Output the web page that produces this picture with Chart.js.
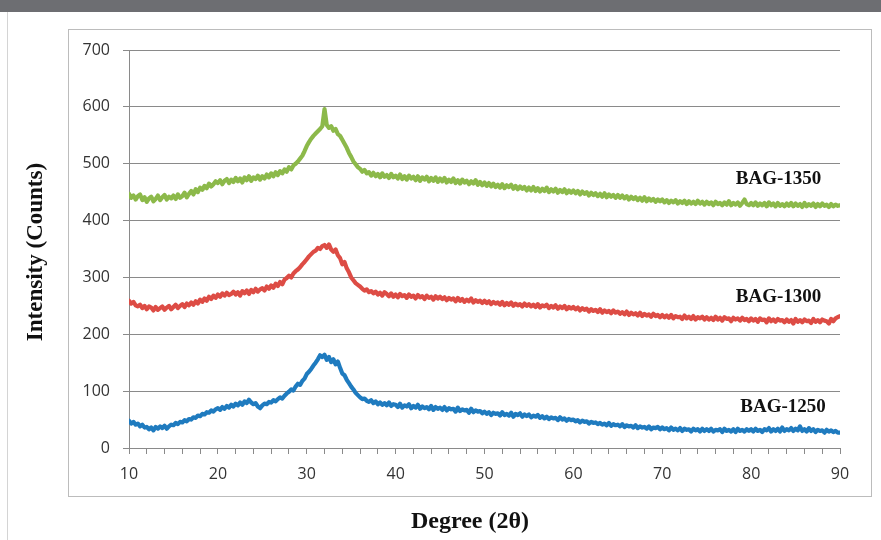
<!DOCTYPE html>
<html>
<head>
<meta charset="utf-8">
<script src="https://cdn.jsdelivr.net/npm/chart.js@4/dist/chart.umd.min.js"></script>
<style>
  html, body { margin: 0; padding: 0; background: #fff; }
  #page { position: relative; width: 881px; height: 540px; overflow: hidden; }
  #band { position: absolute; left: 0; top: 0; width: 881px; height: 12px; background: #6d6e72; }
  #edge { position: absolute; left: 7px; top: 12px; width: 1px; height: 528px; background: #d4d4d4; }
  #frame { position: absolute; left: 68px; top: 29px; width: 802px; height: 466px; border: 1px solid #bcbcbc; }
  #chart { position: absolute; left: 0; top: 0; }
</style>
</head>
<body>
<div id="page">
  <div id="band"></div>
  <div id="edge"></div>
  <div id="frame"></div>
  <canvas id="chart" width="881" height="540"></canvas>
</div>
<script>
// XRD patterns, 2θ from 10 to 90 in 0.25 degree steps (one row = 5 degrees)
const degStart = 10;
const degStep = 0.25;

const bag1350 = [
  447, 440, 444, 437, 443, 446, 436, 441, 433, 439, 442, 434, 438, 444, 436, 441, 445, 437, 442, 439,
  444, 438, 446, 440, 443, 449, 441, 447, 452, 446, 455, 450, 458, 454, 461, 457, 465, 460, 464, 469,
  466, 471, 464, 470, 473, 466, 472, 468, 475, 469, 474, 467, 476, 471, 478, 470, 476, 473, 479, 472,
  478, 474, 481, 476, 483, 478, 485, 480, 487, 483, 490, 486, 494, 490, 497, 500, 504, 509, 514, 522,
  531, 538, 544, 549, 553, 557, 561, 566, 596, 568, 563, 566, 558, 561, 552, 549, 542, 535, 528, 519,
  512, 504, 499, 494, 491, 486, 489, 483, 485, 479, 484, 478, 482, 476, 483, 477, 480, 475, 482, 476,
  479, 474, 481, 473, 478, 472, 479, 474, 477, 471, 478, 470, 476, 472, 477, 469, 475, 470, 476, 468,
  474, 469, 475, 467, 472, 468, 474, 466, 471, 465, 472, 467, 470, 464, 469, 465, 471, 463, 468, 462,
  467, 461, 466, 460, 465, 459, 463, 458, 464, 457, 462, 459, 463, 456, 461, 455, 460, 456, 459, 453,
  458, 453, 459, 452, 457, 451, 456, 452, 458, 450, 455, 451, 456, 449, 454, 450, 455, 448, 453, 449,
  453, 448, 452, 446, 451, 447, 450, 444, 449, 445, 448, 443, 447, 442, 448, 441, 446, 442, 445, 440,
  445, 440, 444, 439, 443, 437, 442, 438, 441, 436, 440, 435, 441, 434, 439, 435, 438, 433, 437, 434,
  437, 432, 436, 431, 435, 432, 436, 430, 434, 431, 435, 429, 434, 430, 433, 429, 435, 430, 433, 428,
  433, 429, 432, 427, 433, 429, 431, 427, 432, 428, 434, 427, 431, 428, 432, 426, 431, 437, 429, 427,
  431, 427, 432, 426, 430, 427, 431, 425, 432, 427, 430, 425, 431, 426, 429, 425, 430, 426, 431, 425,
  430, 426, 429, 424, 431, 425, 429, 426, 430, 424, 429, 425, 430, 426, 428, 424, 429, 425, 428, 426,
  427
];

const bag1300 = [
  259, 254, 257, 251, 249, 252, 246, 250, 244, 249, 247, 242, 248, 243, 246, 249, 243, 247, 250, 244,
  248, 252, 246, 250, 253, 248, 254, 251, 256, 252, 258, 254, 261, 257, 263, 259, 266, 262, 268, 264,
  270, 266, 272, 268, 273, 269, 271, 275, 270, 274, 268, 276, 272, 277, 271, 278, 274, 280, 275, 279,
  281, 277, 284, 280, 286, 282, 289, 285, 292, 288, 296, 299, 303, 300, 307, 311, 314, 318, 323, 327,
  332, 337, 341, 345, 347, 352, 350, 355, 357, 352, 358, 349, 345, 349, 339, 334, 323, 327, 316, 309,
  300, 295, 290, 287, 284, 280, 277, 279, 274, 276, 272, 275, 270, 273, 268, 274, 271, 267, 272, 266,
  270, 265, 271, 267, 269, 264, 270, 266, 268, 263, 269, 265, 267, 262, 268, 264, 266, 261, 267, 263,
  266, 262, 265, 260, 264, 261, 263, 258, 264, 259, 262, 257, 261, 258, 263, 256, 260, 257, 259, 255,
  259, 255, 258, 253, 257, 254, 256, 252, 257, 251, 255, 252, 256, 250, 254, 251, 253, 249, 254, 250,
  253, 249, 252, 248, 253, 247, 251, 249, 252, 246, 250, 247, 251, 245, 249, 246, 250, 244, 248, 245,
  248, 244, 247, 242, 246, 243, 245, 240, 244, 241, 243, 239, 244, 238, 242, 239, 241, 237, 242, 238,
  240, 236, 239, 235, 240, 234, 238, 235, 237, 233, 238, 232, 236, 233, 235, 231, 236, 232, 234, 230,
  234, 230, 233, 229, 234, 228, 232, 230, 231, 227, 233, 228, 231, 227, 232, 226, 230, 228, 231, 226,
  230, 226, 229, 225, 231, 226, 229, 224, 230, 227, 228, 223, 229, 226, 228, 224, 229, 225, 227, 223,
  228, 224, 227, 222, 228, 225, 226, 221, 228, 223, 226, 222, 227, 224, 225, 221, 226, 222, 225, 219,
  227, 222, 225, 221, 226, 223, 224, 220, 227, 222, 225, 221, 226, 224, 223, 219, 227, 223, 228, 230,
  232
];

const bag1250 = [
  48, 43, 46, 41, 43, 38, 41, 36, 37, 33, 36, 31, 37, 34, 38, 35, 39, 34, 38, 41,
  40, 44, 42, 46, 45, 49, 47, 51, 50, 54, 53, 57, 56, 60, 59, 63, 62, 66, 64, 68,
  70, 67, 72, 69, 74, 71, 76, 73, 78, 75, 80, 76, 82, 79, 85, 80, 77, 79, 73, 70,
  75, 78, 77, 81, 80, 84, 82, 86, 89, 87, 92, 96, 99, 103, 101, 108, 113, 111, 118, 122,
  130, 134, 139, 145, 150, 156, 163, 160, 164, 155, 160, 151, 156, 147, 152, 141, 131, 128, 120, 114,
  108, 103, 97, 93, 89, 86, 87, 83, 81, 84, 79, 82, 77, 80, 76, 79, 75, 80, 74, 77,
  76, 72, 78, 71, 75, 73, 77, 70, 74, 71, 76, 69, 73, 70, 72, 68, 74, 67, 72, 69,
  71, 67, 72, 66, 70, 68, 69, 64, 71, 65, 68, 66, 67, 62, 69, 63, 66, 64, 65, 61,
  64, 60, 63, 58, 62, 60, 61, 57, 63, 58, 60, 57, 62, 55, 60, 58, 61, 55, 59, 56,
  59, 54, 57, 55, 58, 53, 56, 52, 55, 51, 54, 52, 53, 49, 54, 50, 52, 48, 51, 49,
  50, 47, 49, 45, 48, 46, 47, 43, 46, 44, 45, 42, 44, 41, 43, 40, 44, 39, 42, 40,
  41, 38, 42, 37, 40, 38, 39, 36, 40, 35, 38, 36, 37, 34, 38, 33, 36, 35, 37, 33,
  36, 33, 35, 31, 36, 32, 34, 31, 35, 30, 34, 32, 33, 29, 34, 31, 33, 29, 34, 30,
  33, 30, 34, 29, 32, 31, 33, 28, 34, 30, 32, 29, 33, 28, 34, 30, 32, 29, 33, 30,
  33, 29, 34, 30, 32, 28, 33, 31, 35, 29, 33, 30, 34, 29, 36, 30, 33, 31, 35, 30,
  34, 31, 38, 30, 33, 29, 35, 30, 33, 28, 32, 30, 31, 27, 32, 29, 31, 28, 30, 27,
  27
];

// series labels placed next to the tail of each curve (right edge at 2θ, intensity)
const seriesNames = ['BAG-1350', 'BAG-1300', 'BAG-1250'];
const seriesColors = ['#8cb94a', '#dd4c45', '#1f7bbf'];
const nameAtDeg = [87.9, 87.9, 88.4];
const nameAtCount = [473, 266, 72];

const yTicks = [0, 100, 200, 300, 400, 500, 600, 700];

function toPoints(values) {
  return values.map((v, i) => ({ x: degStart + i * degStep, y: v }));
}

const seriesValues = [bag1350, bag1300, bag1250];

const gridGrey = '#8a8a8a';
const tickFont = { family: '"Open Sans", sans-serif', size: 16 };

// axis titles and the in-plot series names
const textPlugin = {
  id: 'texts',
  afterDraw(chart) {
    const ctx = chart.ctx;
    const xs = chart.scales.x, ys = chart.scales.y;
    ctx.save();
    ctx.fillStyle = '#111';
    ctx.font = 'bold 19px "Liberation Serif", "Times New Roman", serif';
    ctx.textAlign = 'right';
    ctx.textBaseline = 'middle';
    seriesNames.forEach((n, i) => {
      ctx.fillText(n, xs.getPixelForValue(nameAtDeg[i]), ys.getPixelForValue(nameAtCount[i]));
    });
    ctx.font = 'bold 24px "Liberation Serif", "Times New Roman", serif';
    ctx.textAlign = 'center';
    ctx.fillText('Degree (2θ)', 470, 522);
    ctx.font = 'bold 23px "Liberation Serif", "Times New Roman", serif';
    ctx.translate(36, 252);
    ctx.rotate(-Math.PI / 2);
    ctx.fillText('Intensity (Counts)', 0, 0);
    ctx.restore();
  }
};

new Chart(document.getElementById('chart'), {
  type: 'line',
  data: {
    datasets: seriesValues.map((vals, i) => ({
      label: seriesNames[i],
      data: toPoints(vals),
      borderColor: seriesColors[i],
      borderWidth: 4.2,
      borderJoinStyle: 'round',
      borderCapStyle: 'round',
      pointRadius: 0,
      tension: 0,
      fill: false
    }))
  },
  options: {
    responsive: false,
    animation: false,
    layout: { padding: { left: 0, right: 41, top: 50, bottom: 0 } },
    plugins: { legend: { display: false }, tooltip: { enabled: false } },
    scales: {
      x: {
        type: 'linear',
        min: 10,
        max: 90,
        afterFit(s) { s.height = 92; },
        ticks: {
          stepSize: 2,
          maxTicksLimit: 50,
          autoSkip: false,
          maxRotation: 0,
          padding: 11,
          color: '#333',
          font: tickFont,
          callback: v => (v % 10 === 0 ? v : '')
        },
        grid: { drawOnChartArea: false, tickLength: 6, color: gridGrey, tickColor: gridGrey },
        border: { color: gridGrey, width: 1 }
      },
      y: {
        min: 0,
        max: 700,
        afterFit(s) { s.width = 129; },
        afterBuildTicks(s) { s.ticks = yTicks.map(v => ({ value: v })); },
        ticks: { padding: 13, color: '#333', font: tickFont },
        grid: { color: gridGrey, tickLength: 6, tickColor: gridGrey },
        border: { color: gridGrey, width: 1 }
      }
    }
  },
  plugins: [textPlugin]
});
</script>
</body>
</html>
